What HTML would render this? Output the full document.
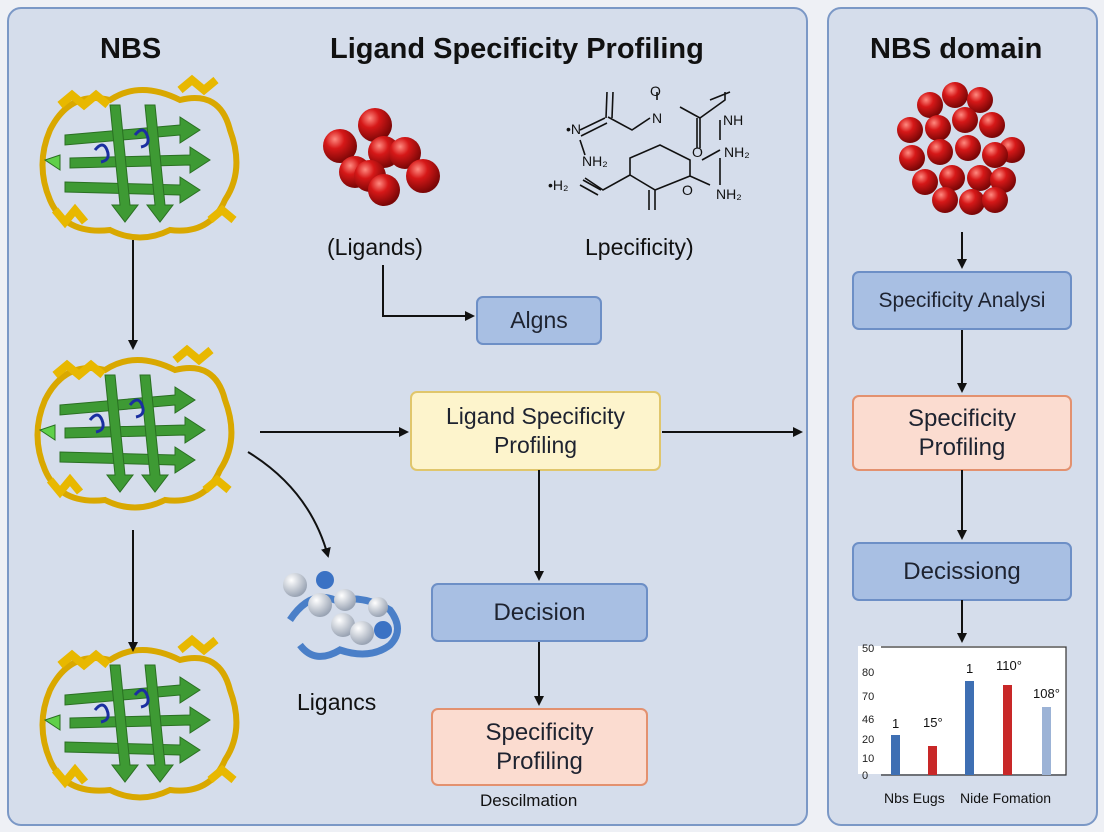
<!DOCTYPE html>
<html><head><meta charset="utf-8"><style>
body{margin:0;width:1104px;height:832px;background:#eef0f5;font-family:"Liberation Sans","DejaVu Sans",sans-serif;overflow:hidden;position:relative}
.panel{position:absolute;background:#d5ddeb;border:2px solid #7b98c6;border-radius:14px}
.box{position:absolute;display:flex;align-items:center;justify-content:center;text-align:center;border-radius:7px;color:#1e2330;font-size:23px;line-height:29px}
.b{background:#a8bfe3;border:2px solid #6d8fc6}
.y{background:#fdf4cc;border:2px solid #e0c66c}
.o{background:#fbdcd0;border:2px solid #e3916f}
.t{position:absolute;color:#111;white-space:nowrap}
svg{position:absolute;left:0;top:0}
</style></head><body>
<div class="panel" style="left:7px;top:7px;width:797px;height:815px"></div>
<div class="panel" style="left:827px;top:7px;width:267px;height:815px"></div>

<div class="t" style="left:100px;top:33px;font-size:29px;font-weight:bold">NBS</div>
<div class="t" style="left:330px;top:33px;font-size:29px;font-weight:bold">Ligand Specificity Profiling</div>
<div class="t" style="left:870px;top:33px;font-size:29px;font-weight:bold">NBS domain</div>
<div class="t" style="left:327px;top:234px;font-size:23px">(Ligands)</div>
<div class="t" style="left:585px;top:234px;font-size:23px">Lpecificity)</div>
<div class="t" style="left:297px;top:689px;font-size:23px">Ligancs</div>
<div class="t" style="left:480px;top:791px;font-size:17px">Descilmation</div>

<div class="box b" style="left:476px;top:296px;width:122px;height:45px">Algns</div>
<div class="box y" style="left:410px;top:391px;width:247px;height:76px">Ligand Specificity<br>Profiling</div>
<div class="box b" style="left:431px;top:583px;width:213px;height:55px;font-size:24px">Decision</div>
<div class="box o" style="left:431px;top:708px;width:213px;height:74px;font-size:24px">Specificity<br>Profiling</div>
<div class="box b" style="left:852px;top:271px;width:216px;height:55px;font-size:21px">Specificity Analysi</div>
<div class="box o" style="left:852px;top:395px;width:216px;height:72px;font-size:24px">Specificity<br>Profiling</div>
<div class="box b" style="left:852px;top:542px;width:216px;height:55px;font-size:24px">Decissiong</div>

<svg width="1104" height="832" viewBox="0 0 1104 832">
<defs>
<marker id="a" markerWidth="10" markerHeight="10" refX="8" refY="5" orient="auto" markerUnits="userSpaceOnUse"><path d="M0,0 L10,5 L0,10 z" fill="#111"/></marker>
<radialGradient id="r" cx="35%" cy="30%" r="70%"><stop offset="0" stop-color="#ff8a80"/><stop offset="0.4" stop-color="#d61818"/><stop offset="1" stop-color="#7a0606"/></radialGradient>
<radialGradient id="w" cx="35%" cy="30%" r="70%"><stop offset="0" stop-color="#fff"/><stop offset="1" stop-color="#9aa4b4"/></radialGradient>
<g id="prot">
 <path d="M-90,-30 Q-70,-70 -30,-60 Q0,-80 40,-60 Q80,-70 90,-30 Q105,10 85,40 Q70,75 30,70 Q0,85 -30,70 Q-75,75 -90,40 Q-105,5 -90,-30z" fill="none" stroke="#d9a800" stroke-width="6"/>
 <path d="M-80,-55 l12,-10 l12,10 l12,-10 l12,10 M40,-70 l12,-10 l12,10 l12,-10 M70,60 l12,-10 l12,10 M-85,50 l10,12 l10,-12 l10,12" fill="none" stroke="#e8b800" stroke-width="8"/>
 <g fill="#3e9a34" stroke="#2a7022" stroke-width="1">
  <path d="M-75,-25 L40,-35 L40,-43 L60,-30 L40,-17 L40,-25 L-75,-15z"/>
  <path d="M-70,-2 L50,-5 L50,-13 L70,0 L50,13 L50,5 L-70,8z"/>
  <path d="M-75,22 L40,25 L40,17 L60,30 L40,43 L40,35 L-75,32z"/>
  <path d="M-30,-55 L-20,45 L-28,45 L-15,62 L-2,45 L-10,45 L-20,-55z"/>
  <path d="M5,-55 L15,45 L7,45 L20,62 L33,45 L25,45 L15,-55z"/>
  <path d="M-80,-5 L-95,0 L-80,10z" fill="#5fd04a"/>
 </g>
 <path d="M-45,-10 q8,-10 12,0 q4,10 -6,12 M-5,-25 q8,-10 12,0 q4,10 -6,12" fill="none" stroke="#1a2fa0" stroke-width="3"/>
</g>
</defs>
<use href="#prot" x="140" y="160"/>
<use href="#prot" x="135" y="430"/>
<use href="#prot" x="140" y="720"/>

<g stroke="#111" stroke-width="2" fill="none" marker-end="url(#a)">
<path d="M133,240 V348"/><path d="M133,530 V650"/>
<path d="M260,432 H407"/><path d="M383,265 V316 H473"/>
<path d="M662,432 H801"/><path d="M248,452 Q310,490 328,556"/>
<path d="M539,470 V579"/><path d="M539,642 V704"/>
<path d="M962,232 V267"/><path d="M962,330 V391"/><path d="M962,470 V538"/><path d="M962,600 V641"/>
</g>

<g fill="url(#r)">
<circle cx="340" cy="146" r="17"/><circle cx="375" cy="125" r="17"/><circle cx="355" cy="172" r="16"/><circle cx="384" cy="152" r="16"/><circle cx="405" cy="153" r="16"/><circle cx="423" cy="176" r="17"/><circle cx="370" cy="176" r="16"/><circle cx="384" cy="190" r="16"/>
</g>
<g fill="url(#r)">
<circle cx="930" cy="105" r="13"/><circle cx="955" cy="95" r="13"/><circle cx="980" cy="100" r="13"/><circle cx="910" cy="130" r="13"/><circle cx="938" cy="128" r="13"/><circle cx="965" cy="120" r="13"/><circle cx="992" cy="125" r="13"/><circle cx="1012" cy="150" r="13"/><circle cx="912" cy="158" r="13"/><circle cx="940" cy="152" r="13"/><circle cx="968" cy="148" r="13"/><circle cx="995" cy="155" r="13"/><circle cx="925" cy="182" r="13"/><circle cx="952" cy="178" r="13"/><circle cx="980" cy="178" r="13"/><circle cx="1003" cy="180" r="13"/><circle cx="945" cy="200" r="13"/><circle cx="972" cy="202" r="13"/><circle cx="995" cy="200" r="13"/>
</g>
<g>
<path d="M290,620 q20,-30 45,-20 q30,-5 55,10 q15,20 0,35 q-20,15 -50,5 q-25,15 -40,-5" fill="none" stroke="#4a7fc8" stroke-width="7"/>
<circle cx="295" cy="585" r="12" fill="url(#w)"/><circle cx="320" cy="605" r="12" fill="url(#w)"/><circle cx="345" cy="600" r="11" fill="url(#w)"/><circle cx="343" cy="625" r="12" fill="url(#w)"/><circle cx="362" cy="633" r="12" fill="url(#w)"/><circle cx="378" cy="607" r="10" fill="url(#w)"/><circle cx="325" cy="580" r="9" fill="#3b72c4"/><circle cx="383" cy="630" r="9" fill="#3b72c4"/>
</g>

<g stroke="#111" stroke-width="1.6" fill="none">
<path d="M606,118 L607,92 M612,118 L613,92 M608,117 L632,130 L650,118 M657,100 L657,92"/>
<path d="M580,130 L605,118 M581,136 L607,123 M580,140 L585,155"/>
<path d="M585,178 L603,190 L630,175 L630,158 L660,145 L690,160 L690,176 M630,175 L655,190 L655,210 M649,190 L649,210 M655,190 L690,176 L710,185"/>
<path d="M580,185 L598,195 M583,180 L601,190"/>
<path d="M680,107 L700,118 L700,148 M697,118 L697,148 M700,118 L725,100 L725,92 M710,100 L730,92 M702,160 L720,150 M720,140 L720,120 M720,158 L720,185"/>
</g>
<g font-size="14" fill="#111" font-family="Liberation Sans,sans-serif">
<text x="652" y="123">N</text><text x="566" y="134">•N</text><text x="582" y="166">NH₂</text><text x="548" y="190">•H₂</text>
<text x="692" y="157">O</text><text x="682" y="195">O</text><text x="723" y="125">NH</text><text x="724" y="157">NH₂</text><text x="716" y="199">NH₂</text>
<text x="650" y="96">O</text>
</g>

<rect x="858" y="646" width="208" height="128" fill="#fff"/>
<path d="M881,647 H1066 V775 H881" fill="none" stroke="#333" stroke-width="1.2"/>
<g font-size="11" fill="#222"><text x="862" y="652">50</text><text x="862" y="676">80</text><text x="862" y="700">70</text><text x="862" y="723">46</text><text x="862" y="743">20</text><text x="862" y="762">10</text><text x="862" y="779">0</text></g>
<rect x="891" y="735" width="9" height="40" fill="#3e6fb3"/>
<rect x="928" y="746" width="9" height="29" fill="#c82828"/>
<rect x="965" y="681" width="9" height="94" fill="#3e6fb3"/>
<rect x="1003" y="685" width="9" height="90" fill="#c82828"/>
<rect x="1042" y="707" width="9" height="68" fill="#9cb3d6"/>
<g font-size="13" fill="#111"><text x="892" y="728">1</text><text x="923" y="727">15°</text><text x="966" y="673">1</text><text x="996" y="670">110°</text><text x="1033" y="698">108°</text>
<text x="884" y="803" font-size="14">Nbs Eugs</text><text x="960" y="803" font-size="14">Nide Fomation</text></g>
</svg>
</body></html>
